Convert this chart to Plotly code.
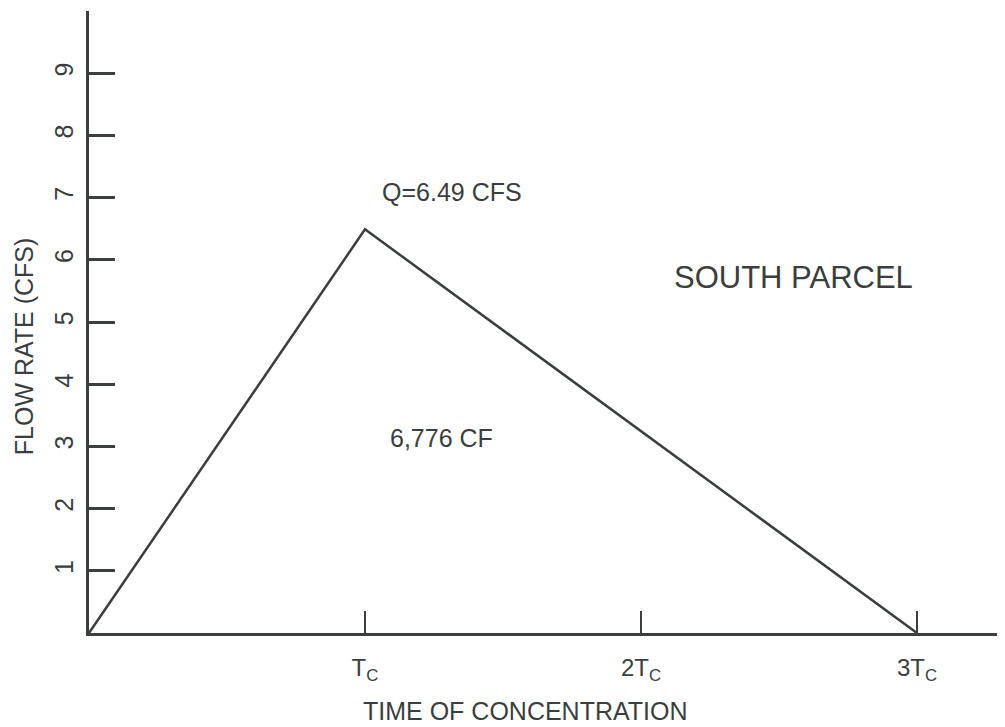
import plotly.graph_objects as go

# data
time_tc = [0, 1, 3]
flow_cfs = [0, 6.49, 0]
y_ticks = [1, 2, 3, 4, 5, 6, 7, 8, 9, 10]
y_labels = ["1", "2", "3", "4", "5", "6", "7", "8", "9", ""]
x_ticks = [1, 2, 3]
x_labels = ["T<sub>C</sub>", "2T<sub>C</sub>", "3T<sub>C</sub>"]
peak_label = "Q=6.49 CFS"
volume_label = "6,776 CF"
parcel_label = "SOUTH PARCEL"

INK = "#3a3e3e"
FONT = "Liberation Sans, Arial, sans-serif"

fig = go.Figure()
fig.add_trace(go.Scatter(x=time_tc, y=flow_cfs, mode="lines",
                         line=dict(color=INK, width=2.5), hoverinfo="skip",
                         showlegend=False))

fig.update_layout(
    width=997, height=719,
    margin=dict(l=81, r=0, t=3, b=94),
    paper_bgcolor="white", plot_bgcolor="white",
    font=dict(family=FONT, size=25, color=INK),
    showlegend=False,
    xaxis=dict(range=[0, 3.319], showgrid=False, zeroline=False,
               showline=True, linecolor=INK, linewidth=2.5,
               ticks="inside", ticklen=22, tickwidth=1.8, tickcolor=INK,
               tickvals=x_ticks, ticktext=x_labels,
               tickfont=dict(size=24, family=FONT, color=INK),
               ticklabelstandoff=11),
    yaxis=dict(range=[0, 10], showgrid=False, zeroline=False,
               showline=True, linecolor=INK, linewidth=2.5,
               ticks="inside", ticklen=26, tickwidth=2.5, tickcolor=INK,
               tickvals=y_ticks, ticktext=y_labels, tickangle=-90,
               tickfont=dict(size=25, family=FONT, color=INK),
               ticklabelstandoff=3),
    annotations=[
        dict(x=1.315, y=7.09, xref="x", yref="y", text=peak_label, showarrow=False,
             xanchor="center", yanchor="middle",
             font=dict(size=25, family=FONT, color=INK)),
        dict(x=1.279, y=3.135, xref="x", yref="y", text=volume_label, showarrow=False,
             xanchor="center", yanchor="middle",
             font=dict(size=25, family=FONT, color=INK)),
        dict(x=2.551, y=5.72, xref="x", yref="y", text=parcel_label, showarrow=False,
             xanchor="center", yanchor="middle",
             font=dict(size=31, family=FONT, color=INK)),
        dict(x=0.477, y=-0.125, xref="paper", yref="paper", text="TIME OF CONCENTRATION",
             xanchor="center", yanchor="middle",
             showarrow=False, font=dict(size=25, family=FONT, color=INK)),
        dict(x=-0.071, y=0.461, xref="paper", yref="paper", text="FLOW RATE (CFS)",
             xanchor="center", yanchor="middle",
             textangle=-90, showarrow=False, font=dict(size=25, family=FONT, color=INK)),
    ],
)

fig.write_html("out.html")
